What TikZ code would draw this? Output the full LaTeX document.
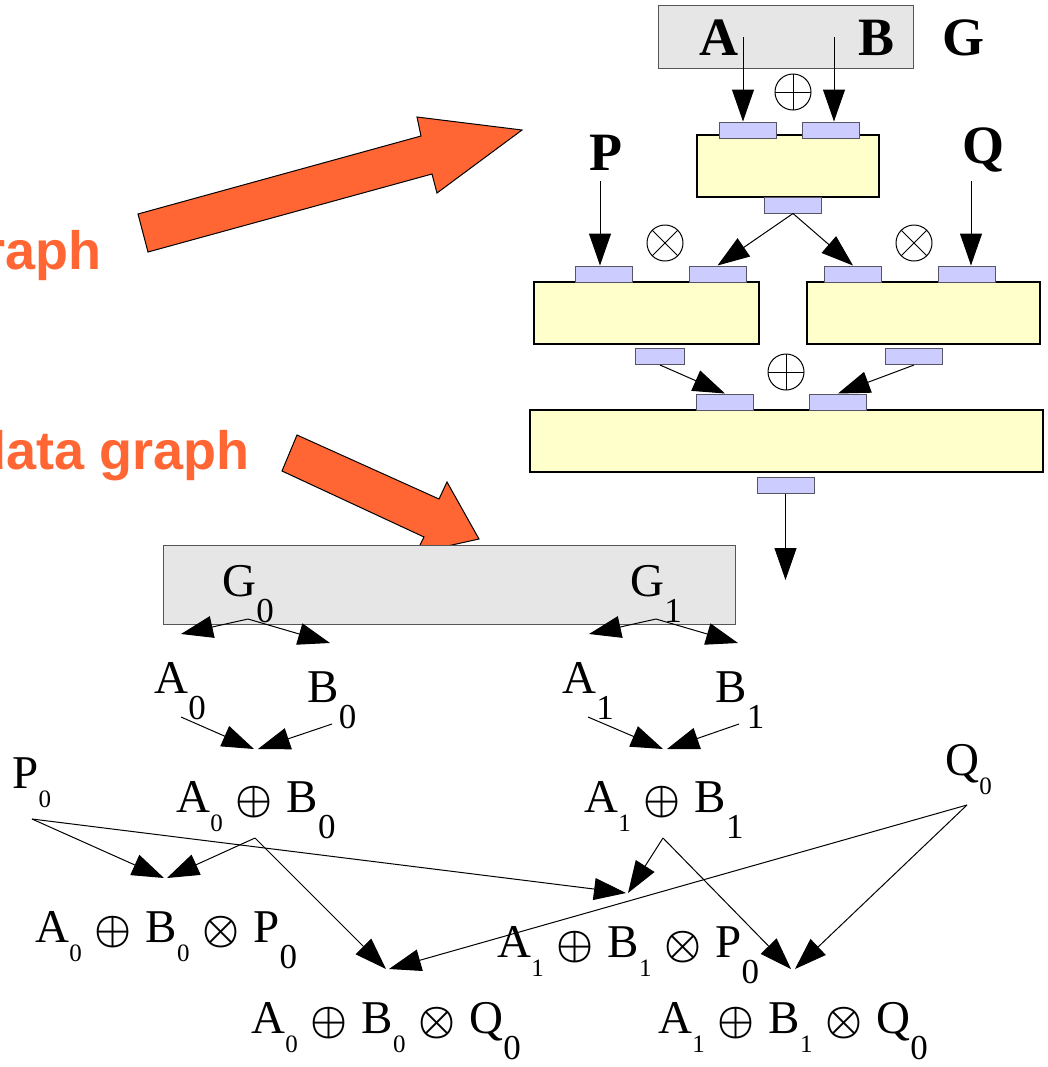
\documentclass[tikz,border=0pt]{standalone}
\usepackage{amsmath}
\usepackage{fontspec}
\setmainfont{Liberation Serif}
\setsansfont{Liberation Sans}
\usepackage{tikz}
\usetikzlibrary{arrows.meta}

\definecolor{blockyellow}{HTML}{FFFFCC}
\definecolor{portblue}{HTML}{CCCCFF}
\definecolor{portedge}{HTML}{555566}
\definecolor{boxgray}{HTML}{E6E6E6}
\definecolor{boxedge}{HTML}{555555}
\definecolor{arroworange}{HTML}{FF6633}

% low subscripts as the drawing sets them
\newcommand{\lsub}[1]{\raisebox{-9.5pt}{\fontsize{12.5}{13}\selectfont #1}}
\newcommand{\bsub}[1]{\raisebox{-13pt}{\fontsize{17.5}{18}\selectfont #1}}
\newcommand{\opl}{\hspace{6.4pt}{\fontsize{20}{20}\selectfont$\boldsymbol{\oplus}$}\hspace{7pt}}
\newcommand{\otm}{\hspace{6.4pt}{\fontsize{20}{20}\selectfont$\boldsymbol{\otimes}$}\hspace{7pt}}

\begin{document}
\begin{tikzpicture}[
				x=0.5pt, y=-0.5pt,
				block/.style={
					draw,
					line width=1pt,
					fill=blockyellow,
					minimum height=31pt,
					inner sep=0pt
				},
				port/.style={
					draw=portedge,
					line width=0.5pt,
					fill=portblue,
					minimum width=28.5pt,
					minimum height=8pt,
					inner sep=0pt
				},
				gbox/.style={draw=boxedge, line width=0.5pt, fill=boxgray, inner sep=0pt},
				opsym/.style={circle, draw, line width=0.5pt, minimum size=18pt, inner sep=0pt},
				oplus/.style={opsym, path picture={
						\draw[line width=0.5pt] (path picture bounding box.north) -- (path picture bounding box.south)
						(path picture bounding box.west) -- (path picture bounding box.east);}},
				otimes/.style={opsym, path picture={
						\draw[line width=0.5pt] (path picture bounding box.north west) -- (path picture bounding box.south east)
						(path picture bounding box.south west) -- (path picture bounding box.north east);}},
				toplbl/.style={font=\fontsize{27}{28}\selectfont\bfseries, anchor=base west, inner sep=0pt},
				lbl/.style={font=\fontsize{23.5}{24}\selectfont, anchor=base west, inner sep=0pt},
				sidetext/.style={font=\fontsize{27}{28}\selectfont\sffamily\bfseries, text=arroworange,
					anchor=base east, inner sep=0pt},
				pointer/.style={fill=arroworange, draw=black, line width=0.5pt},
				flow/.style={-{Triangle[length=16pt,width=11pt]}, line width=0.5pt}
				]
				
				\clip (0,0) rectangle (1048,1067);
				
				% captions and the two big pointers
				\node[sidetext] (capctl) at (102,269) {graph};
				\node[sidetext] (capdata) at (250,469) {data graph};
				\draw[pointer] (138,214) -- (421,136) -- (417,117) -- (522,130) -- (437,193) -- (432,174) -- (148,252) -- cycle;
				\draw[pointer] (297,435) -- (439,499) -- (447,482) -- (479,539) -- (416,553) -- (424,537) -- (282,471) -- cycle;
				
				% task graph G
				\node[gbox, minimum width=127.5pt, minimum height=31.5pt] (gtop) at (785.5,36.5) {};
				\node[toplbl] (la) at (699,55) {A};
				\node[toplbl] (lb) at (858,55) {B};
				\node[toplbl] (lg) at (942,55) {G};
				\node[toplbl] (lp) at (589,170) {P};
				\node[toplbl] (lq) at (962,163) {Q};
				
				\node[block, minimum width=91pt] (blk1) at (788,166) {};
				\node[block, minimum width=112.5pt] (blk2l) at (646.5,313) {};
				\node[block, minimum width=116.5pt] (blk2r) at (923.5,313) {};
				\node[block, minimum width=256.5pt] (blk3) at (786.5,441) {};
				
				\node[port] (p1a) at (747.5,130) {};
				\node[port] (p1b) at (830.5,130) {};
				\node[port] (p1o) at (793,205) {};
				\node[port] (p2la) at (604,274) {};
				\node[port] (p2lb) at (717.5,274) {};
				\node[port, minimum width=24.5pt] (p2lo) at (660,356.5) {};
				\node[port] (p2ra) at (853,274) {};
				\node[port] (p2rb) at (967,274) {};
				\node[port] (p2ro) at (914,356.5) {};
				\node[port] (p3a) at (725,402) {};
				\node[port] (p3b) at (838,402) {};
				\node[port] (p3o) at (785.5,485) {};
				
				\node[oplus] (op1) at (793,92) {};
				\node[otimes] (op2l) at (665,243) {};
				\node[otimes] (op2r) at (914,243) {};
				\node[oplus] (op3) at (786,372) {};
				
				\coordinate (aout) at (743,37);
				\coordinate (bout) at (834,37);
				\coordinate (pin) at (600,181);
				\coordinate (qin) at (971,181);
				\coordinate (res) at (785.5,580);
				\draw[flow] (aout) -- (aout |- p1a.north);
				\draw[flow] (bout) -- (bout |- p1b.north);
				\draw[flow] (pin) -- (pin |- p2la.north);
				\draw[flow] (qin) -- (qin |- p2rb.north);
				\draw[flow] (p1o.south) -- (p2lb.north);
				\draw[flow] (p1o.south) -- (p2ra.north);
				\draw[flow] (p2lo.south) -- (p3a.north);
				\draw[flow] (p2ro.south) -- (p3b.north);
				\draw[flow] (p3o.south) -- (res);
				
				% data graph
				\node[gbox, minimum width=286pt, minimum height=39.5pt] (gdata) at (449,584.5) {};
				\node[lbl] (g0) at (222,596) {G\bsub{0}};
				\node[lbl] (g1) at (630,596) {G\bsub{1}};
				\node[lbl] (a0) at (154,693) {A\bsub{0}};
				\node[lbl] (b0) at (307,702) {B\bsub{0}};
				\node[lbl] (a1) at (562,693) {A\bsub{1}};
				\node[lbl] (b1) at (715,702) {B\bsub{1}};
				\node[lbl] (p0) at (12,788) {P\lsub{0}};
				\node[lbl] (q0) at (945,775) {Q\lsub{0}};
				\node[lbl] (s0) at (176,812) {A\lsub{0}\opl B\bsub{0}};
				\node[lbl] (s1) at (584,812) {A\lsub{1}\opl B\bsub{1}};
				\node[lbl] (s0p) at (35,942) {A\lsub{0}\opl B\lsub{0}\otm P\bsub{0}};
				\node[lbl] (s1p) at (497,957) {A\lsub{1}\opl B\lsub{1}\otm P\bsub{0}};
				\node[lbl] (s0q) at (251,1033) {A\lsub{0}\opl B\lsub{0}\otm Q\bsub{0}};
				\node[lbl] (s1q) at (658,1033) {A\lsub{1}\opl B\lsub{1}\otm Q\bsub{0}};
				
				\coordinate (g0s) at (248,619);
				\coordinate (g0l) at (181,634);
				\coordinate (g0r) at (330,643);
				\coordinate (g1s) at (656,619);
				\coordinate (g1l) at (589,634);
				\coordinate (g1r) at (738,643);
				\coordinate (a0s) at (181,717);
				\coordinate (b0s) at (332,724);
				\coordinate (a1s) at (588,717);
				\coordinate (b1s) at (739,724);
				\coordinate (s0ina) at (254,749);
				\coordinate (s0inb) at (258,749);
				\coordinate (s1ina) at (663,749);
				\coordinate (s1inb) at (667,749);
				\coordinate (p0s) at (32,819);
				\coordinate (q0s) at (967,805);
				\coordinate (s0s) at (255,838);
				\coordinate (s1s) at (663,838);
				\coordinate (s0pina) at (164,878);
				\coordinate (s0pinb) at (167,878);
				\coordinate (s1pina) at (626,893);
				\coordinate (s1pinb) at (628,893);
				\coordinate (s0qina) at (386,969);
				\coordinate (s0qinb) at (389,969);
				\coordinate (s1qina) at (791,969);
				\coordinate (s1qinb) at (795,969);
				
				\draw[flow] (g0s) -- (g0l);
				\draw[flow] (g0s) -- (g0r);
				\draw[flow] (g1s) -- (g1l);
				\draw[flow] (g1s) -- (g1r);
				\draw[flow] (a0s) -- (s0ina);
				\draw[flow] (b0s) -- (s0inb);
				\draw[flow] (a1s) -- (s1ina);
				\draw[flow] (b1s) -- (s1inb);
				\draw[flow] (p0s) -- (s0pina);
				\draw[flow] (s0s) -- (s0pinb);
				\draw[flow] (p0s) -- (s1pina);
				\draw[flow] (s1s) -- (s1pinb);
				\draw[flow] (s0s) -- (s0qina);
				\draw[flow] (q0s) -- (s0qinb);
				\draw[flow] (s1s) -- (s1qina);
				\draw[flow] (q0s) -- (s1qinb);
				
			\end{tikzpicture}
\end{document}
